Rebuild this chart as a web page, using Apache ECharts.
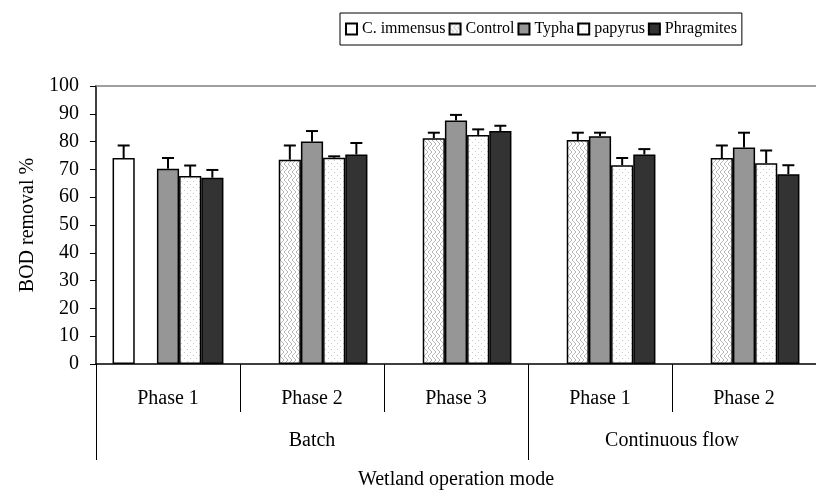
<!DOCTYPE html>
<html>
<head>
<meta charset="utf-8">
<script src="https://cdn.jsdelivr.net/npm/echarts@6/dist/echarts.min.js"></script>
<style>
  html, body { margin: 0; padding: 0; background: #fff; }
  #chart { width: 816px; height: 497px; }
</style>
</head>
<body>
<div id="chart"></div>
<script>
// categories
const phases = ['Phase 1', 'Phase 2', 'Phase 3', 'Phase 1', 'Phase 2'];
const modes = ['Batch', 'Continuous flow'];
const modeSpans = [3, 2];

// BOD removal % (mean) and upper error
const cImmensus = [74.1, null, null, null, null];
const cImmensusErr = [4.5, null, null, null, null];
const control = [null, 73.5, 81.2, 80.6, 74.1];
const controlErr = [null, 5.1, 2.0, 2.6, 4.5];
const typha = [70.2, 80.0, 87.6, 81.9, 77.9];
const typhaErr = [3.9, 3.8, 2.0, 1.3, 5.3];
const papyrus = [67.6, 74.2, 82.4, 71.5, 72.2];
const papyrusErr = [3.8, 0.5, 2.0, 2.6, 4.6];
const phragmites = [67.0, 75.4, 83.8, 75.4, 68.3];
const phragmitesErr = [2.8, 4.1, 1.9, 1.9, 3.2];

const yTicks = { min: 0, max: 100, step: 10 };

const FONT = "'Liberation Serif', 'Times New Roman', serif";
const GAP = 0.23;

// fill patterns
function hatchCanvas() {
  const c = document.createElement('canvas');
  c.width = 8; c.height = 8;
  const g = c.getContext('2d');
  g.fillStyle = '#fff';
  g.fillRect(0, 0, 8, 8);
  g.strokeStyle = '#b4b4b4';
  g.lineWidth = 1;
  g.beginPath();
  g.moveTo(8, 0); g.lineTo(4, 4); g.lineTo(8, 8);
  g.moveTo(4, 0); g.lineTo(0, 4); g.lineTo(4, 8);
  g.stroke();
  return c;
}
function dotCanvas() {
  const c = document.createElement('canvas');
  c.width = 6; c.height = 6;
  const g = c.getContext('2d');
  g.fillStyle = '#fff';
  g.fillRect(0, 0, 6, 6);
  g.fillStyle = '#c8c8c8';
  g.fillRect(1, 1, 1, 1);
  g.fillRect(4, 4, 1, 1);
  return c;
}

const seriesDefs = [
  { name: 'C. immensus', data: cImmensus, err: cImmensusErr, color: '#ffffff' },
  { name: 'Control', data: control, err: controlErr, color: { image: hatchCanvas(), repeat: 'repeat' } },
  { name: 'Typha', data: typha, err: typhaErr, color: '#969696' },
  { name: 'papyrus', data: papyrus, err: papyrusErr, color: { image: dotCanvas(), repeat: 'repeat' } },
  { name: 'Phragmites', data: phragmites, err: phragmitesErr, color: '#333333' }
];

function errRenderer(idx, n) {
  return function (params, api) {
    const v = api.value(1), e = api.value(2);
    if (isNaN(v) || isNaN(e)) return;
    const band = api.size([1, 0])[0];
    const bw = band * (1 - GAP) / n;
    const off = (idx - (n - 1) / 2) * bw;
    const p0 = api.coord([api.value(0), v]);
    const p1 = api.coord([api.value(0), v + e]);
    const x = p0[0] + off;
    const st = { stroke: '#000', lineWidth: 2 };
    return {
      type: 'group',
      children: [
        { type: 'line', shape: { x1: x, y1: p0[1], x2: x, y2: p1[1] }, style: st },
        { type: 'line', shape: { x1: x - 6, y1: p1[1], x2: x + 6, y2: p1[1] }, style: st }
      ]
    };
  };
}

const series = [];
seriesDefs.forEach(function (s) {
  series.push({
    name: s.name,
    type: 'bar',
    data: s.data,
    barGap: '0%',
    barCategoryGap: (GAP * 100) + '%',
    itemStyle: { color: s.color, borderColor: '#000', borderWidth: 1.5 }
  });
});
seriesDefs.forEach(function (s, i) {
  series.push({
    name: s.name + ' err',
    type: 'custom',
    z: 5,
    renderItem: errRenderer(i, seriesDefs.length),
    data: s.data.map(function (v, k) { return [k, v == null ? NaN : v, s.err[k] == null ? NaN : s.err[k]]; })
  });
});

// second level of x labels
const bounds = [0];
modeSpans.forEach(function (n) { bounds.push(bounds[bounds.length - 1] + n); });
const modeCenters = modes.map(function (m, i) { return (bounds[i] + bounds[i + 1]) / 2; });

const chart = echarts.init(document.getElementById('chart'));
chart.setOption({
  animation: false,
  textStyle: { fontFamily: FONT },
  legend: {
    data: seriesDefs.map(function (s) { return s.name; }),
    left: 340,
    top: 13,
    icon: 'rect',
    itemWidth: 11,
    itemHeight: 11,
    itemGap: 3,
    padding: [8, 5],
    borderColor: '#000',
    borderWidth: 1,
    textStyle: { fontFamily: FONT, fontSize: 16, color: '#000' }
  },
  grid: { left: 96, right: -12, top: 86, bottom: 133 },
  xAxis: [{
    type: 'category',
    data: phases,
    axisLine: { lineStyle: { color: '#000', width: 1.5 } },
    axisTick: { show: true, interval: 0, length: 48, lineStyle: { color: '#000' } },
    axisLabel: { interval: 0, margin: 25, fontFamily: FONT, fontSize: 20, color: '#000' }
  }, {
    type: 'value',
    position: 'bottom',
    offset: 48,
    min: bounds[0],
    max: bounds[bounds.length - 1],
    splitLine: { show: false },
    axisLine: { show: false },
    axisTick: { show: true, customValues: bounds, length: 48, lineStyle: { color: '#000' } },
    axisLabel: {
      customValues: modeCenters,
      margin: 19,
      fontFamily: FONT, fontSize: 20, color: '#000',
      formatter: function (v) {
        const i = modeCenters.indexOf(v);
        return i >= 0 ? modes[i] : '';
      }
    },
    name: 'Wetland operation mode',
    nameLocation: 'middle',
    nameGap: 58,
    nameTextStyle: { fontFamily: FONT, fontSize: 20, color: '#000' }
  }, {
    type: 'category',
    data: phases,
    position: 'top',
    axisLine: { lineStyle: { color: '#808080', width: 1.5 } },
    axisTick: { show: false },
    axisLabel: { show: false }
  }],
  yAxis: {
    type: 'value',
    min: yTicks.min,
    max: yTicks.max,
    interval: yTicks.step,
    splitLine: { show: false },
    axisLine: { show: true, lineStyle: { color: '#000', width: 1.5 } },
    axisTick: { show: true, length: 6, lineStyle: { color: '#000' } },
    axisLabel: { margin: 17, fontFamily: FONT, fontSize: 20, color: '#000' },
    name: 'BOD removal %',
    nameLocation: 'middle',
    nameRotate: 90,
    nameGap: 58,
    nameTextStyle: { fontFamily: FONT, fontSize: 20, color: '#000' }
  },
  series: series
});
</script>
</body>
</html>
